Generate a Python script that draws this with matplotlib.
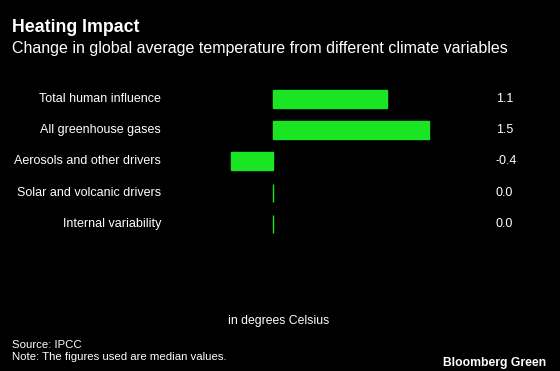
import matplotlib
matplotlib.use("Agg")
import matplotlib.pyplot as plt
import matplotlib.transforms as mtransforms

## Data ------------------------------------------------------------------------
categories = ["Total human influence", "All greenhouse gases",
              "Aerosols and other drivers", "Solar and volcanic drivers",
              "Internal variability"]
values = [1.1, 1.5, -0.4, 0.0, 0.0]

## Style -----------------------------------------------------------------------
bg = "black"
green = "#1ae522"
plt.rcParams['font.family'] = ['Liberation Sans', 'DejaVu Sans']

fig = plt.figure(figsize=(5.6, 3.71), dpi=100, facecolor=bg)
ax = fig.add_axes([0.3214, 0.353, 0.5, 0.423], facecolor=bg)

ypos = list(range(len(categories)))
ax.barh(ypos, values, height=0.58, color=green, edgecolor=green, linewidth=1.0)
ax.set_xlim(-0.894, 1.798)
ax.set_ylim(4.52, -0.51)
ax.axis('off')

# labels on left, values on right
trans = mtransforms.blended_transform_factory(fig.transFigure, ax.transData)
for y, cat, v in zip(ypos, categories, values):
    ax.text(161/560, y, cat, transform=trans, ha='right', va='center',
            color='white', fontsize=9.0)
    ax.text(496/560, y, "{:.1f}".format(v), transform=trans, ha='left',
            va='center', color='white', fontsize=9.0)

## Titles and notes ------------------------------------------------------------
fig.text(12/560, 1-28/371, "Heating Impact", color='white', fontsize=12.8,
         fontweight='bold', ha='left', va='center')
fig.text(12/560, 1-48/371,
         "Change in global average temperature from different climate variables",
         color='white', fontsize=11.5, ha='left', va='center')
fig.text(279/560, 1-321/371, "in degrees Celsius", color='white', fontsize=8.8,
         ha='center', va='center')
fig.text(12/560, 1-345/371, "Source: IPCC", color='white', fontsize=8.2,
         ha='left', va='center')
fig.text(12/560, 1-357/371, "Note: The figures used are median values.",
         color='white', fontsize=8.2, ha='left', va='center')
fig.text(546/560, 1-363/371, "Bloomberg Green", color='white', fontsize=8.7,
         fontweight='bold', ha='right', va='center')

fig.savefig("out.png", dpi=100, facecolor=bg)
